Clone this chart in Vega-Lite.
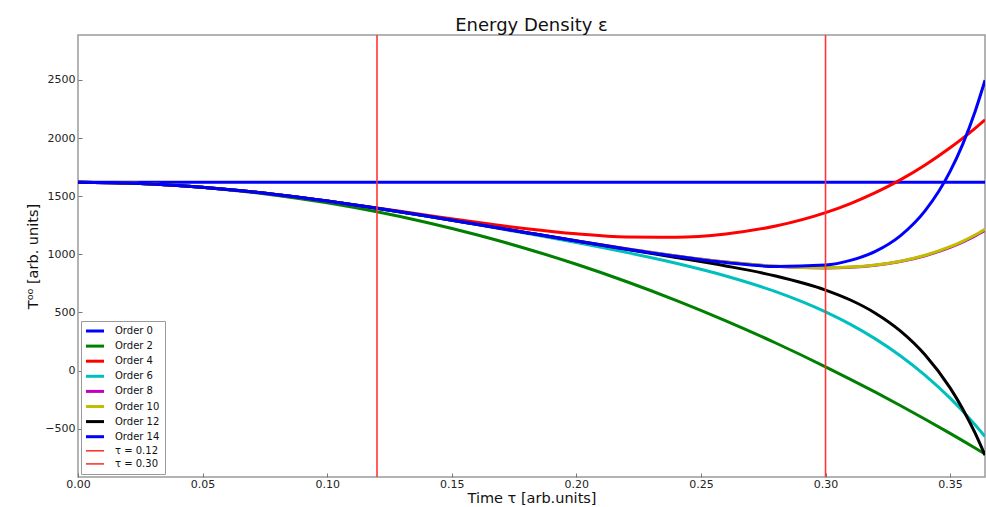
{
  "$schema": "https://vega.github.io/schema/vega-lite/v6.json",
  "width": 907,
  "height": 442,
  "autosize": {"type": "none"},
  "padding": {"left": 78, "top": 35, "right": 1, "bottom": 30},
  "background": "white",
  "title": {
    "text": "Energy Density ε",
    "font": "DejaVu Sans",
    "fontSize": 18,
    "fontWeight": "normal",
    "color": "#111111",
    "anchor": "middle",
    "frame": "group",
    "baseline": "bottom",
    "offset": 1,
    "dy": 20
  },
  "config": {
    "view": {"stroke": "#9a9a9a", "strokeWidth": 1.5},
    "axis": {
      "grid": false,
      "domain": false,
      "labelFlush": false,
      "labelFont": "DejaVu Sans",
      "labelFontSize": 11,
      "labelColor": "#222222",
      "titleFont": "DejaVu Sans",
      "titleFontSize": 14.5,
      "titleFontWeight": "normal",
      "titleColor": "#111111",
      "tickColor": "#777777",
      "tickSize": -4,
      "tickWidth": 1
    },
    "legend": {
      "orient": "bottom-left",
      "offset": 3,
      "padding": 5,
      "fillColor": "white",
      "strokeColor": "#9a9a9a",
      "cornerRadius": 0,
      "symbolType": "stroke",
      "symbolSize": 324,
      "symbolOffset": 4,
      "labelFont": "DejaVu Sans",
      "labelFontSize": 10,
      "labelColor": "#111111",
      "labelOffset": 15,
      "rowPadding": 3.1
    }
  },
  "datasets": {
    "curves": [
      {"series": "Order 0", "tau": 0, "T00": 1620},
      {"series": "Order 0", "tau": 0.364, "T00": 1620},

      {"series": "Order 2", "tau": 0, "T00": 1620},
      {"series": "Order 2", "tau": 0.02, "T00": 1612.9},
      {"series": "Order 2", "tau": 0.04, "T00": 1591.8},
      {"series": "Order 2", "tau": 0.06, "T00": 1556.5},
      {"series": "Order 2", "tau": 0.08, "T00": 1507.2},
      {"series": "Order 2", "tau": 0.10, "T00": 1443.7},
      {"series": "Order 2", "tau": 0.12, "T00": 1366.1},
      {"series": "Order 2", "tau": 0.14, "T00": 1274.4},
      {"series": "Order 2", "tau": 0.16, "T00": 1168.6},
      {"series": "Order 2", "tau": 0.18, "T00": 1048.7},
      {"series": "Order 2", "tau": 0.20, "T00": 914.7},
      {"series": "Order 2", "tau": 0.22, "T00": 766.6},
      {"series": "Order 2", "tau": 0.24, "T00": 604.3},
      {"series": "Order 2", "tau": 0.26, "T00": 428.0},
      {"series": "Order 2", "tau": 0.28, "T00": 237.6},
      {"series": "Order 2", "tau": 0.30, "T00": 33.0},
      {"series": "Order 2", "tau": 0.31, "T00": -74.5},
      {"series": "Order 2", "tau": 0.32, "T00": -185.6},
      {"series": "Order 2", "tau": 0.33, "T00": -300.2},
      {"series": "Order 2", "tau": 0.34, "T00": -418.4},
      {"series": "Order 2", "tau": 0.35, "T00": -540.0},
      {"series": "Order 2", "tau": 0.355, "T00": -602.2},
      {"series": "Order 2", "tau": 0.36, "T00": -665.2},
      {"series": "Order 2", "tau": 0.364, "T00": -716.3},

      {"series": "Order 4", "tau": 0, "T00": 1620},
      {"series": "Order 4", "tau": 0.02, "T00": 1613.0},
      {"series": "Order 4", "tau": 0.04, "T00": 1592.2},
      {"series": "Order 4", "tau": 0.06, "T00": 1558.6},
      {"series": "Order 4", "tau": 0.08, "T00": 1513.9},
      {"series": "Order 4", "tau": 0.10, "T00": 1460.0},
      {"series": "Order 4", "tau": 0.12, "T00": 1400.0},
      {"series": "Order 4", "tau": 0.14, "T00": 1337.3},
      {"series": "Order 4", "tau": 0.16, "T00": 1275.9},
      {"series": "Order 4", "tau": 0.18, "T00": 1220.5},
      {"series": "Order 4", "tau": 0.20, "T00": 1176.6},
      {"series": "Order 4", "tau": 0.22, "T00": 1150.0},
      {"series": "Order 4", "tau": 0.24, "T00": 1147.5},
      {"series": "Order 4", "tau": 0.26, "T00": 1176.1},
      {"series": "Order 4", "tau": 0.28, "T00": 1243.8},
      {"series": "Order 4", "tau": 0.30, "T00": 1359.0},
      {"series": "Order 4", "tau": 0.31, "T00": 1437.3},
      {"series": "Order 4", "tau": 0.32, "T00": 1530.9},
      {"series": "Order 4", "tau": 0.33, "T00": 1641.1},
      {"series": "Order 4", "tau": 0.34, "T00": 1769.2},
      {"series": "Order 4", "tau": 0.35, "T00": 1916.5},
      {"series": "Order 4", "tau": 0.355, "T00": 1997.7},
      {"series": "Order 4", "tau": 0.36, "T00": 2084.3},
      {"series": "Order 4", "tau": 0.364, "T00": 2157.5},

      {"series": "Order 6", "tau": 0, "T00": 1620},
      {"series": "Order 6", "tau": 0.02, "T00": 1613.0},
      {"series": "Order 6", "tau": 0.04, "T00": 1592.2},
      {"series": "Order 6", "tau": 0.06, "T00": 1558.6},
      {"series": "Order 6", "tau": 0.08, "T00": 1513.6},
      {"series": "Order 6", "tau": 0.10, "T00": 1458.9},
      {"series": "Order 6", "tau": 0.12, "T00": 1396.5},
      {"series": "Order 6", "tau": 0.14, "T00": 1328.5},
      {"series": "Order 6", "tau": 0.16, "T00": 1256.2},
      {"series": "Order 6", "tau": 0.18, "T00": 1180.7},
      {"series": "Order 6", "tau": 0.20, "T00": 1101.6},
      {"series": "Order 6", "tau": 0.22, "T00": 1017.2},
      {"series": "Order 6", "tau": 0.24, "T00": 923.6},
      {"series": "Order 6", "tau": 0.26, "T00": 814.2},
      {"series": "Order 6", "tau": 0.28, "T00": 679.2},
      {"series": "Order 6", "tau": 0.30, "T00": 505.0},
      {"series": "Order 6", "tau": 0.31, "T00": 397.6},
      {"series": "Order 6", "tau": 0.32, "T00": 273.0},
      {"series": "Order 6", "tau": 0.33, "T00": 128.2},
      {"series": "Order 6", "tau": 0.34, "T00": -40.5},
      {"series": "Order 6", "tau": 0.35, "T00": -237.0},
      {"series": "Order 6", "tau": 0.355, "T00": -347.1},
      {"series": "Order 6", "tau": 0.36, "T00": -465.8},
      {"series": "Order 6", "tau": 0.364, "T00": -567.4},

      {"series": "Order 8", "tau": 0, "T00": 1620},
      {"series": "Order 8", "tau": 0.02, "T00": 1613.0},
      {"series": "Order 8", "tau": 0.04, "T00": 1592.2},
      {"series": "Order 8", "tau": 0.06, "T00": 1558.6},
      {"series": "Order 8", "tau": 0.08, "T00": 1513.6},
      {"series": "Order 8", "tau": 0.10, "T00": 1458.9},
      {"series": "Order 8", "tau": 0.12, "T00": 1396.8},
      {"series": "Order 8", "tau": 0.14, "T00": 1329.3},
      {"series": "Order 8", "tau": 0.16, "T00": 1258.7},
      {"series": "Order 8", "tau": 0.18, "T00": 1187.0},
      {"series": "Order 8", "tau": 0.20, "T00": 1116.4},
      {"series": "Order 8", "tau": 0.22, "T00": 1048.8},
      {"series": "Order 8", "tau": 0.24, "T00": 987.0},
      {"series": "Order 8", "tau": 0.26, "T00": 934.5},
      {"series": "Order 8", "tau": 0.28, "T00": 896.9},
      {"series": "Order 8", "tau": 0.30, "T00": 883.0},
      {"series": "Order 8", "tau": 0.31, "T00": 888.9},
      {"series": "Order 8", "tau": 0.32, "T00": 906.4},
      {"series": "Order 8", "tau": 0.33, "T00": 938.4},
      {"series": "Order 8", "tau": 0.34, "T00": 988.3},
      {"series": "Order 8", "tau": 0.35, "T00": 1060.3},
      {"series": "Order 8", "tau": 0.355, "T00": 1106.1},
      {"series": "Order 8", "tau": 0.36, "T00": 1159.4},
      {"series": "Order 8", "tau": 0.364, "T00": 1208.1},

      {"series": "Order 10", "tau": 0, "T00": 1620},
      {"series": "Order 10", "tau": 0.02, "T00": 1613.0},
      {"series": "Order 10", "tau": 0.04, "T00": 1592.2},
      {"series": "Order 10", "tau": 0.06, "T00": 1558.6},
      {"series": "Order 10", "tau": 0.08, "T00": 1513.6},
      {"series": "Order 10", "tau": 0.10, "T00": 1458.9},
      {"series": "Order 10", "tau": 0.12, "T00": 1396.8},
      {"series": "Order 10", "tau": 0.14, "T00": 1329.3},
      {"series": "Order 10", "tau": 0.16, "T00": 1258.7},
      {"series": "Order 10", "tau": 0.18, "T00": 1187.0},
      {"series": "Order 10", "tau": 0.20, "T00": 1116.4},
      {"series": "Order 10", "tau": 0.22, "T00": 1048.9},
      {"series": "Order 10", "tau": 0.24, "T00": 987.1},
      {"series": "Order 10", "tau": 0.26, "T00": 934.8},
      {"series": "Order 10", "tau": 0.28, "T00": 897.5},
      {"series": "Order 10", "tau": 0.30, "T00": 884.2},
      {"series": "Order 10", "tau": 0.31, "T00": 890.5},
      {"series": "Order 10", "tau": 0.32, "T00": 908.7},
      {"series": "Order 10", "tau": 0.33, "T00": 941.5},
      {"series": "Order 10", "tau": 0.34, "T00": 992.4},
      {"series": "Order 10", "tau": 0.35, "T00": 1065.8},
      {"series": "Order 10", "tau": 0.355, "T00": 1112.5},
      {"series": "Order 10", "tau": 0.36, "T00": 1166.7},
      {"series": "Order 10", "tau": 0.364, "T00": 1216.3},

      {"series": "Order 12", "tau": 0, "T00": 1620},
      {"series": "Order 12", "tau": 0.02, "T00": 1613.0},
      {"series": "Order 12", "tau": 0.04, "T00": 1592.2},
      {"series": "Order 12", "tau": 0.06, "T00": 1558.6},
      {"series": "Order 12", "tau": 0.08, "T00": 1513.6},
      {"series": "Order 12", "tau": 0.10, "T00": 1458.9},
      {"series": "Order 12", "tau": 0.12, "T00": 1396.8},
      {"series": "Order 12", "tau": 0.14, "T00": 1329.3},
      {"series": "Order 12", "tau": 0.16, "T00": 1258.6},
      {"series": "Order 12", "tau": 0.18, "T00": 1186.6},
      {"series": "Order 12", "tau": 0.20, "T00": 1114.9},
      {"series": "Order 12", "tau": 0.22, "T00": 1044.3},
      {"series": "Order 12", "tau": 0.24, "T00": 974.0},
      {"series": "Order 12", "tau": 0.26, "T00": 900.5},
      {"series": "Order 12", "tau": 0.28, "T00": 814.0},
      {"series": "Order 12", "tau": 0.30, "T00": 693.2},
      {"series": "Order 12", "tau": 0.31, "T00": 607.4},
      {"series": "Order 12", "tau": 0.32, "T00": 494.3},
      {"series": "Order 12", "tau": 0.33, "T00": 342.1},
      {"series": "Order 12", "tau": 0.34, "T00": 134.7},
      {"series": "Order 12", "tau": 0.35, "T00": -148.7},
      {"series": "Order 12", "tau": 0.355, "T00": -327.4},
      {"series": "Order 12", "tau": 0.36, "T00": -536.3},
      {"series": "Order 12", "tau": 0.364, "T00": -728.1},

      {"series": "Order 14", "tau": 0, "T00": 1620},
      {"series": "Order 14", "tau": 0.02, "T00": 1613.0},
      {"series": "Order 14", "tau": 0.04, "T00": 1592.2},
      {"series": "Order 14", "tau": 0.06, "T00": 1558.6},
      {"series": "Order 14", "tau": 0.08, "T00": 1513.6},
      {"series": "Order 14", "tau": 0.10, "T00": 1458.9},
      {"series": "Order 14", "tau": 0.12, "T00": 1396.8},
      {"series": "Order 14", "tau": 0.14, "T00": 1329.3},
      {"series": "Order 14", "tau": 0.16, "T00": 1258.6},
      {"series": "Order 14", "tau": 0.18, "T00": 1186.8},
      {"series": "Order 14", "tau": 0.20, "T00": 1115.7},
      {"series": "Order 14", "tau": 0.22, "T00": 1047.1},
      {"series": "Order 14", "tau": 0.24, "T00": 983.5},
      {"series": "Order 14", "tau": 0.26, "T00": 929.5},
      {"series": "Order 14", "tau": 0.28, "T00": 895.9},
      {"series": "Order 14", "tau": 0.30, "T00": 908.4},
      {"series": "Order 14", "tau": 0.31, "T00": 948.1},
      {"series": "Order 14", "tau": 0.32, "T00": 1025.6},
      {"series": "Order 14", "tau": 0.33, "T00": 1159.4},
      {"series": "Order 14", "tau": 0.34, "T00": 1376.1},
      {"series": "Order 14", "tau": 0.35, "T00": 1714.1},
      {"series": "Order 14", "tau": 0.355, "T00": 1944.6},
      {"series": "Order 14", "tau": 0.36, "T00": 2227.1},
      {"series": "Order 14", "tau": 0.364, "T00": 2497.6}
    ],
    "markers": [
      {"series": "τ = 0.12", "tau": 0.12},
      {"series": "τ = 0.30", "tau": 0.30}
    ]
  },
  "layer": [
    {
      "data": {"name": "curves"},
      "mark": {"type": "line", "interpolate": "monotone", "clip": true, "strokeWidth": 3},
      "encoding": {
        "x": {
          "field": "tau",
          "type": "quantitative",
          "scale": {"domain": [0, 0.364], "nice": false, "zero": false},
          "axis": {
            "title": "Time τ [arb.units]",
            "values": [0, 0.05, 0.1, 0.15, 0.2, 0.25, 0.3, 0.35],
            "format": ".2f",
            "labelPadding": 5,
            "titlePadding": 2
          }
        },
        "y": {
          "field": "T00",
          "type": "quantitative",
          "scale": {"domain": [-915, 2887], "nice": false, "zero": false},
          "axis": {
            "title": "T⁰⁰ [arb. units]",
            "values": [-500, 0, 500, 1000, 1500, 2000, 2500],
            "format": "d",
            "labelPadding": 7,
            "titlePadding": 4
          }
        },
        "color": {
          "field": "series",
          "type": "nominal",
          "scale": {
            "domain": ["Order 0", "Order 2", "Order 4", "Order 6", "Order 8", "Order 10", "Order 12", "Order 14", "τ = 0.12", "τ = 0.30"],
            "range": ["#0000ff", "#008000", "#ff0000", "#00bfbf", "#bf00bf", "#bfbf00", "#000000", "#0000ff", "#ff3535", "#ff3535"]
          },
          "legend": {
            "title": null,
            "encode": {
              "symbols": {
                "update": {
                  "strokeWidth": {"signal": "indexof(['τ = 0.12', 'τ = 0.30'], datum.value) >= 0 ? 1.6 : 3"}
                }
              }
            }
          }
        }
      }
    },
    {
      "data": {"name": "markers"},
      "mark": {"type": "rule", "strokeWidth": 1.6},
      "encoding": {
        "x": {"field": "tau", "type": "quantitative"},
        "color": {"field": "series", "type": "nominal"}
      }
    }
  ]
}
